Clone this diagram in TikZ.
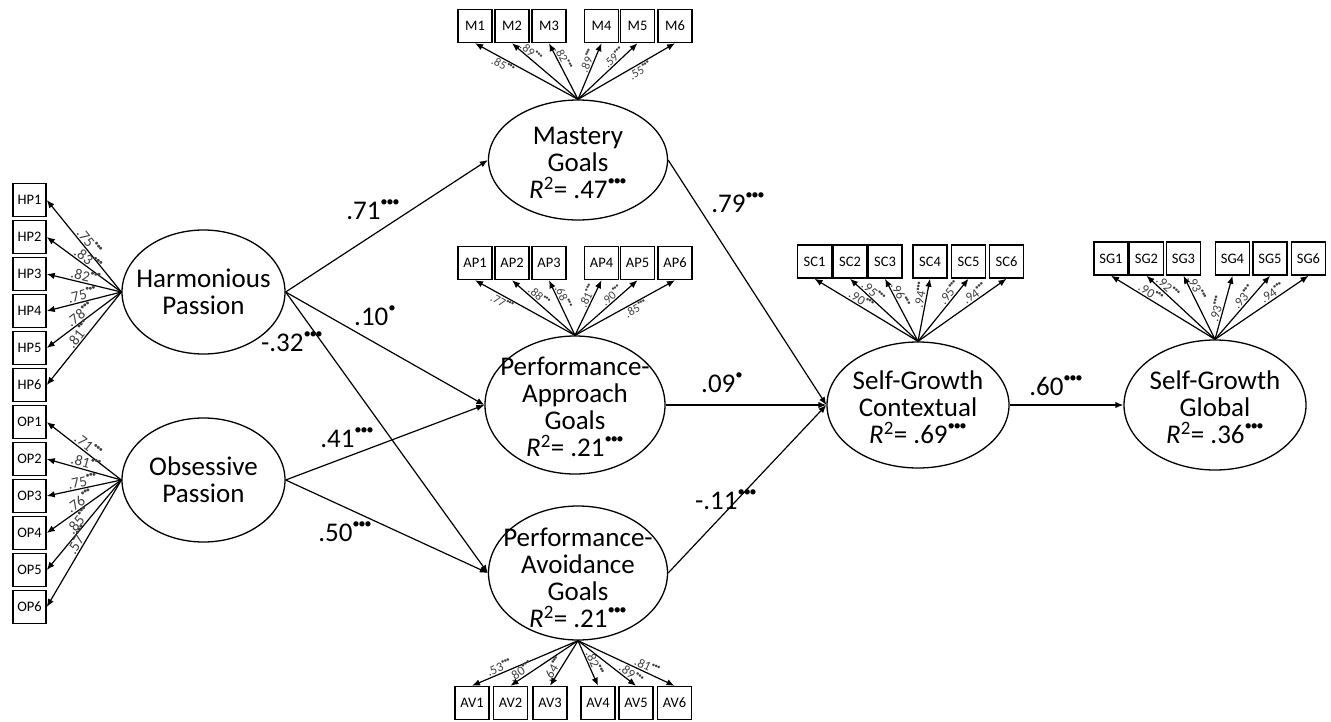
\documentclass[tikz,border=0pt]{standalone}
\usepackage{fontspec}
\usepackage{graphicx}
\setmainfont{Carlito}
\usetikzlibrary{arrows.meta,shapes.geometric}
% significance marks drawn as small raised dots
\newcommand\tstars{\raisebox{.48em}{\scalebox{.55}{\textbullet\kern-.1em\textbullet\kern-.1em\textbullet}}}
\newcommand\ostar{\raisebox{.48em}{\scalebox{.55}{\textbullet}}}
\newcommand\sig[1]{#1\tstars}
\newcommand\rsq[1]{\textit{R}\textsuperscript{2}= #1\tstars}
\begin{document}
\begin{tikzpicture}[x=1pt,y=-1pt,
  lat/.style={ellipse,draw,line width=1.3pt,inner sep=0pt},
  lattext/.style={align=center,font=\fontsize{27}{27}\selectfont,inner sep=0pt},
  obs/.style={draw,line width=1.5pt,minimum width=34pt,minimum height=33pt,inner sep=0pt,font=\fontsize{14.5}{14.5}\selectfont},
  arr/.style={line width=1.2pt,-{Latex[length=8pt,width=6.5pt]}},
  ld/.style={sloped,inner sep=1pt,text=black!75,font=\fontsize{#1}{#1}\selectfont},
  ld/.default=12,
  pth/.style={font=\fontsize{27}{27}\selectfont,inner sep=0pt}]
\useasboundingbox (0,0) rectangle (1331,721);

% latent variables
\node[lat,minimum width=163pt,minimum height=124pt] (hp) at (203.5,292) {};
\node[lattext] at (hp) {Harmonious\\Passion};
\node[lat,minimum width=163pt,minimum height=124pt] (op) at (203.5,480) {};
\node[lattext] at (op) {Obsessive\\Passion};
\node[lat,minimum width=179pt,minimum height=120pt] (mg) at (578,160) {};
\node[lattext] at ([yshift=-3pt]mg.center) {Mastery\\Goals\\\rsq{.47}};
\node[lat,minimum width=180pt,minimum height=138pt] (pap) at (575,405) {};
\node[lattext] at ([yshift=-2pt]pap.center) {Performance-\\Approach\\Goals\\\rsq{.21}};
\node[lat,minimum width=179pt,minimum height=134pt] (pav) at (578,573) {};
\node[lattext] at ([yshift=-5pt]pav.center) {Performance-\\Avoidance\\Goals\\\rsq{.21}};
\node[lat,minimum width=182pt,minimum height=126pt] (sgc) at (918,405) {};
\node[lattext] at ([yshift=-2pt]sgc.center) {Self-Growth\\Contextual\\\rsq{.69}};
\node[lat,minimum width=182pt,minimum height=130pt] (sgg) at (1215,405) {};
\node[lattext] at ([yshift=-2pt]sgg.center) {Self-Growth\\Global\\\rsq{.36}};

% passion indicators
\foreach \i/\y/\l in {1/200/.75,2/237/.83,3/274/.82,4/311/.75,5/348/.78,6/385/.81}{
  \node[obs,minimum width=33pt] (HP\i) at (29.5,\y) {HP\i};
  \draw[arr] (hp.west) -- node[ld=15,above,pos=0.5] {\sig{\l}} (HP\i.east);
}
\foreach \i/\y/\l in {1/422/.71,2/459/.81,3/496/.75,4/533/.76,5/570/.85,6/607/.57}{
  \node[obs,minimum width=33pt] (OP\i) at (29.5,\y) {OP\i};
  \draw[arr] (op.west) -- node[ld=15,above,pos=0.5] {\sig{\l}} (OP\i.east);
}

% mastery indicators
\foreach \i/\x/\l/\p/\s in {1/475/.85/0.70/below,2/512/.89/0.77/above,3/549/.82/0.68/above,
                          4/601.5/.89/0.65/above,5/637.5/.59/0.67/above,6/675/.55/0.61/below}{
  \node[obs] (M\i) at (\x,26) {M\i};
  \draw[arr] (mg.north) -- node[ld,\s,pos=\p] {\sig{\l}} (M\i.south);
}
% approach indicators
\foreach \i/\x/\l/\p/\s in {1/475/.77/0.70/below,2/512/.88/0.63/above,3/549/.68/0.65/above,
                          4/601.5/.81/0.67/above,5/637.5/.90/0.65/above,6/675/.85/0.58/below}{
  \node[obs] (AP\i) at (\x,263) {AP\i};
  \draw[arr] (pap.north) -- node[ld,\s,pos=\p] {\sig{\l}} (AP\i.south);
}
% avoidance indicators
\foreach \i/\x/\l/\p in {1/472/.53/0.72,2/510.5/.80/0.80,3/550/.64/0.70,
                       4/598/.82/0.55,5/636/.89/0.85,6/674.5/.81/0.69}{
  \node[obs] (AV\i) at (\x,703) {AV\i};
  \draw[arr] (pav.south) -- node[ld=13,above,pos=\p] {\sig{\l}} (AV\i.north);
}
% contextual self-growth indicators
\foreach \i/\x/\l/\p in {1/814.5/.90/0.58,2/850/.95/0.72,3/885/.96/0.70,
                       4/930/.94/0.72,5/968.5/.95/0.72,6/1006.5/.94/0.68}{
  \node[obs] (SC\i) at (\x,261.5) {SC\i};
  \draw[arr] (sgc.north) -- node[ld=13,above,pos=\p] {\sig{\l}} (SC\i.south);
}
% global self-growth indicators
\foreach \i/\x/\l/\p in {1/1111/.90/0.65,2/1146.5/.92/0.75,3/1183.5/.93/0.76,
                       4/1232.5/.93/0.45,5/1270/.93/0.60,6/1308.5/.94/0.65}{
  \node[obs] (SG\i) at (\x,258.5) {SG\i};
  \draw[arr] (sgg.north) -- node[ld=13,above,pos=\p] {\sig{\l}} (SG\i.south);
}

% structural paths
\draw[arr] (hp.east) -- (mg.west);
\draw[arr] (hp.east) -- (pap.west);
\draw[arr] (hp.east) -- (pav.west);
\draw[arr] (op.east) -- (pap.west);
\draw[arr] (op.east) -- (pav.west);
\draw[arr] (mg.east) -- (sgc.west);
\draw[arr] (pap.east) -- (sgc.west);
\draw[arr] (pav.east) -- (sgc.west);
\draw[arr] (sgc.east) -- (sgg.west);

% path coefficients
\node[pth] (c1) at (373,210) {\sig{.71}};
\node[pth] (c2) at (375,316) {.10\ostar};
\node[pth] (c3) at (292,342) {\sig{-.32}};
\node[pth] (c4) at (347,438) {\sig{.41}};
\node[pth] (c5) at (345,532) {\sig{.50}};
\node[pth] (c6) at (738,203) {\sig{.79}};
\node[pth] (c7) at (722,383) {.09\ostar};
\node[pth] (c8) at (726,500) {\sig{-.11}};
\node[pth] (c9) at (1056,386) {\sig{.60}};
\end{tikzpicture}
\end{document}
